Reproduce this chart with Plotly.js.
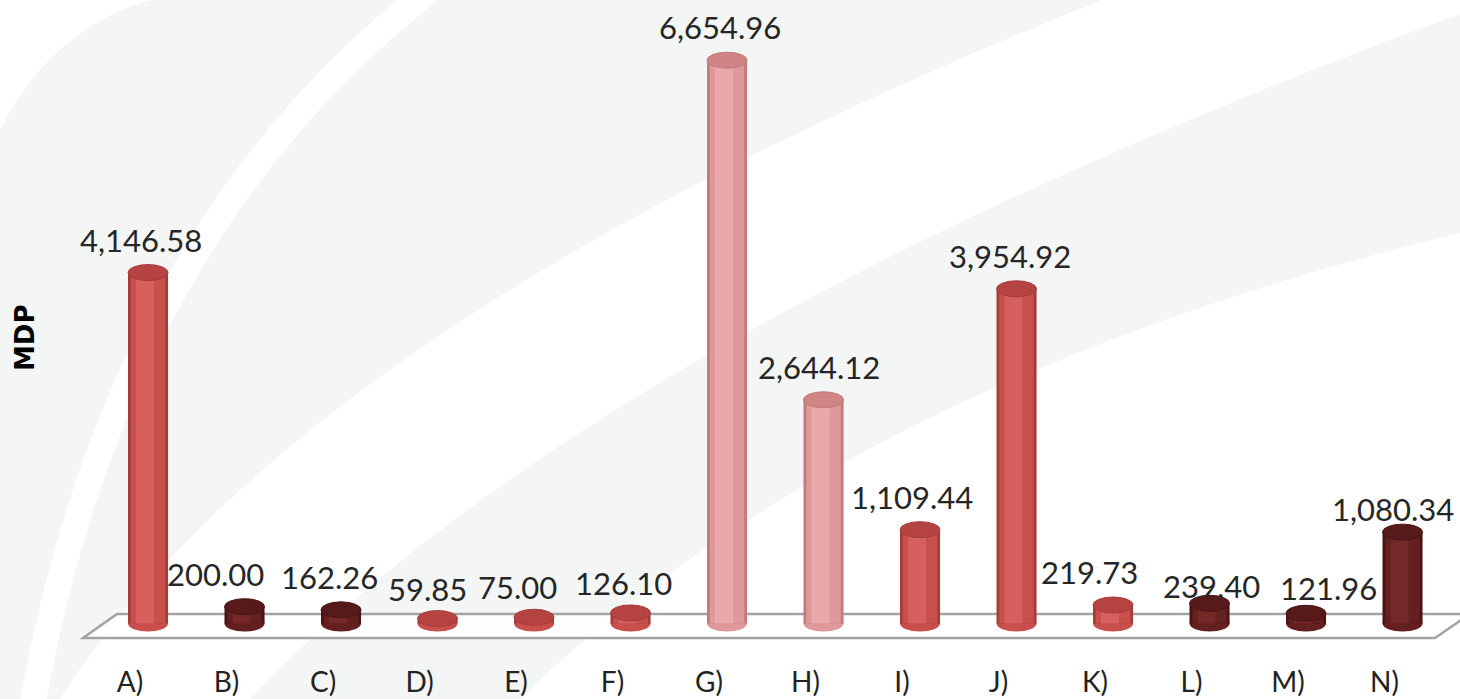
<!DOCTYPE html>
<html>
<head>
<meta charset="utf-8">
<script src="https://cdn.plot.ly/plotly-3.0.1.min.js"></script>
<style>html,body{margin:0;padding:0;background:#fff;}#chart{width:1460px;height:699px;}</style>
</head>
<body>
<div id="chart"></div>
<script>
// ---- data ----
const categories = ['A)','B)','C)','D)','E)','F)','G)','H)','I)','J)','K)','L)','M)','N)'];
const values = [4146.58, 200.00, 162.26, 59.85, 75.00, 126.10, 6654.96, 2644.12, 1109.44, 3954.92, 219.73, 239.40, 121.96, 1080.34];
const colorGroup = ['red','dark','dark','red','red','red','pink','pink','red','red','red','dark','dark','dark'];
const yAxisTitle = 'MDP';

// ---- styles (label nudges in px, as placed in the original) ----
const labelXShift = [-7, -29, -12, -10, -17, -7, -7, -5, -8, -7, -24, 2, 22, -10];
const labelYShift = [0, 0, 0, -3, -3, -3, 0, 0, 0, 0, 0, -16, -8, -10];
const palette = {
  red:  {edge:'#a63c3a', body:'#c94f4c', hi:'#d6605d', cap:'#b54341'},
  dark: {edge:'#4a1414', body:'#641f1f', hi:'#742828', cap:'#571a1a'},
  pink: {edge:'#c27a7b', body:'#e0999a', hi:'#eaa9a9', cap:'#cf8586'}
};
const W = 1460, H = 699;
const M = {l:66, r:0, t:31, b:50};
const plotW = W - M.l - M.r, plotH = H - M.t - M.b;
const yRange = [-300, 7000];
const xRange = [-0.85, -0.85 + plotW / 96.5];
const unitsPerPx = (yRange[1] - yRange[0]) / plotH;
const barW = 0.415;
const capHalf = 8 * unitsPerPx;
const font = 'Lato, "Open Sans", sans-serif';
const bgGrey = '#f4f5f5';

// pixel -> paper helpers for decoration
const px = x => (x - M.l) / plotW;
const py = y => (H - M.b - y) / plotH;
const P = (x, y) => `${px(x)},${py(y)}`;

const col = k => categories.map((c, i) => palette[colorGroup[i]][k]);

const traces = [
  {type:'bar', x:categories, y:values, width:barW, marker:{color:col('edge'), line:{width:0}}, hoverinfo:'skip'},
  {type:'bar', x:categories, y:values, width:barW*0.86, marker:{color:col('body'), line:{width:0}}, hoverinfo:'skip'},
  {type:'bar', x:categories, y:values, width:barW*0.45, offset:-barW*0.3, marker:{color:col('hi'), line:{width:0}}, hoverinfo:'x+y'}
];

const shapes = [];
// background swooshes
shapes.push({type:'path', xref:'paper', yref:'paper', layer:'below', line:{width:0}, fillcolor:bgGrey,
  path:`M ${P(0,699)} L ${P(60,699)} Q ${P(300,320)} ${P(1102,0)} L ${P(150,0)} Q ${P(50,30)} ${P(0,130)} Z`});
shapes.push({type:'path', xref:'paper', yref:'paper', layer:'below', line:{width:26, color:'#ffffff'},
  path:`M ${P(30,720)} Q ${P(110,240)} ${P(430,-10)}`});
shapes.push({type:'path', xref:'paper', yref:'paper', layer:'below', line:{width:0}, fillcolor:bgGrey,
  path:`M ${P(250,699)} Q ${P(600,330)} ${P(1460,14)} L ${P(1460,233)} Q ${P(850,380)} ${P(520,699)} Z`});
// floor
shapes.push({type:'path', xref:'paper', yref:'paper', layer:'below', fillcolor:'rgba(255,255,255,0.9)', line:{color:'#a3a3a3', width:2.5},
  path:`M ${P(83,638)} L ${P(117,614)} L ${P(1470,614)} L ${P(1435,638)} Z`});
// bottom ellipses and top caps
values.forEach((v, i) => {
  const p = palette[colorGroup[i]];
  shapes.push({type:'circle', xref:'x', yref:'y', layer:'below', x0:i-barW/2, x1:i+barW/2, y0:-capHalf, y1:capHalf,
    fillcolor:p.body, line:{width:0}});
  shapes.push({type:'circle', xref:'x', yref:'y', layer:'above', x0:i-barW/2, x1:i+barW/2, y0:v-capHalf, y1:v+capHalf,
    fillcolor:p.cap, line:{width:1, color:p.edge}});
});

const annotations = values.map((v, i) => ({
  x:i, y:v, xref:'x', yref:'y', xshift:labelXShift[i], yshift:capHalf/unitsPerPx + 4 + labelYShift[i],
  yanchor:'bottom', xanchor:'center',
  text:v.toLocaleString('en-US',{minimumFractionDigits:2, maximumFractionDigits:2}),
  showarrow:false, font:{family:font, size:31, color:'#262626'}
}));
annotations.push({xref:'paper', yref:'paper', x:px(25), y:py(338), xanchor:'center', yanchor:'middle',
  text:'<b>'+yAxisTitle+'</b>', textangle:-90, showarrow:false, font:{family:'"DejaVu Sans", sans-serif', size:26, color:'#000'}});

const layout = {
  width:W, height:H, margin:M, showlegend:false, barmode:'overlay',
  paper_bgcolor:'#ffffff', plot_bgcolor:'rgba(0,0,0,0)',
  xaxis:{type:'category', range:xRange, showgrid:false, zeroline:false, showline:false, ticks:'',
    tickfont:{family:font, size:28, color:'#222'}, ticklabelstandoff:14, ticklabelshift:-18, fixedrange:true},
  yaxis:{range:yRange, visible:false, showgrid:false, zeroline:false, fixedrange:true},
  shapes:shapes, annotations:annotations
};
Plotly.newPlot('chart', traces, layout, {displayModeBar:false, staticPlot:true});
</script>
</body>
</html>
